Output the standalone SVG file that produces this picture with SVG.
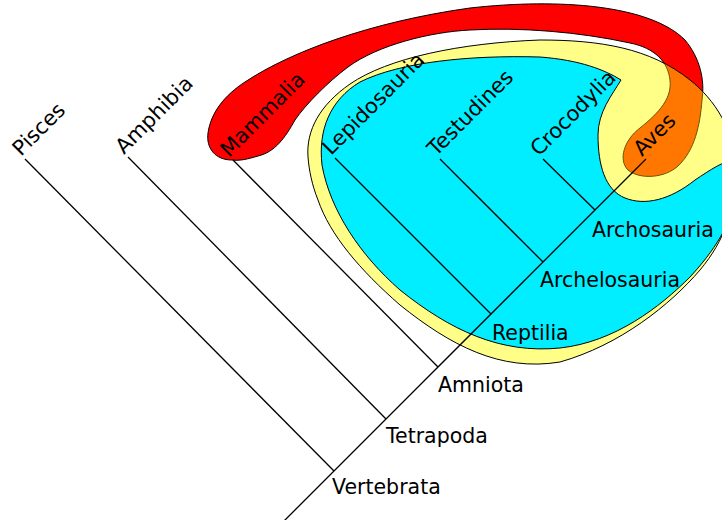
<svg xmlns="http://www.w3.org/2000/svg" width="722" height="520" viewBox="0 0 722 520">
<style>
.lbl{font-family:"DejaVu Sans",sans-serif;font-size:21px;fill:#000}
.hl{font-size:20.5px}
.ln{stroke:#000;stroke-width:1.3;fill:none}
.ol{stroke:#000;stroke-width:1;}
</style>
<defs>
<path id="redP" d="M232,160 C215,160 206,148 208,133 C211,112 225,95 245,82 C290,52 370,22 470,8 C560,-2 650,5 685,40 C700,58 705,80 702,100 C700,125 695,150 678,166 C665,178 640,180 628,170 C618,160 624,140 640,128 C660,112 672,98 670,80 C668,62 655,48 630,43 C580,32 520,27 470,30 C430,32 378,45 348,67 C328,82 306,104 295,120 C285,138 275,152 258,156 C248,159 240,161 232,160 Z"/>
<path id="yelP" d="M308,157 C306,130 320,105 350,84 C388,58 460,43 540,40 C600,40 650,48 690,80 C715,100 735,130 735,170 C735,210 725,240 700,270 C670,305 620,345 560,362 C500,372 450,345 400,305 C360,270 330,235 318,200 C312,185 309,170 308,157 Z"/>
<clipPath id="yelClip"><use href="#yelP"/></clipPath>
</defs>
<g id="mammalia-aves-red">
<use href="#redP" fill="#ff0000" class="ol"/>
</g>
<g id="reptilia-yellow">
<use href="#yelP" fill="#ffff88"/>
</g>
<g id="aves-overlap">
<use href="#redP" fill="#ff7700" stroke="#6e5200" stroke-width="1" clip-path="url(#yelClip)"/>
</g>
<g id="reptilia-outline">
<use href="#yelP" fill="none" class="ol"/>
</g>
<g id="sauropsid-cyan">
<path d="M621,80 C612,95 598,112 598,135 C598,165 605,190 625,198 C645,206 670,200 695,180 C710,170 725,160 735,160 L735,200 C730,225 715,250 690,277 C660,307 615,342 560,348 C500,354 450,330 400,290 C360,255 330,210 322,165 C318,130 330,100 360,82 C400,62 470,55 540,57 C580,60 605,70 621,80 Z" fill="#00eeff" class="ol"/>
</g>
<g id="connectors">
<line class="ln" x1="283" y1="522" x2="646" y2="159"/>
<line class="ln" x1="25" y1="159" x2="334" y2="471"/>
<line class="ln" x1="128" y1="157" x2="386" y2="419"/>
<line class="ln" x1="233" y1="160" x2="438" y2="367"/>
<line class="ln" x1="335" y1="158" x2="491" y2="314"/>
<line class="ln" x1="440" y1="159" x2="543" y2="262"/>
<line class="ln" x1="543" y1="159" x2="595" y2="210"/>
</g>
<g id="node-pisces"><text class="lbl" transform="translate(21,157) rotate(-45)">Pisces</text></g>
<g id="node-amphibia"><text class="lbl" transform="translate(124,155) rotate(-45)">Amphibia</text></g>
<g id="node-mammalia"><text class="lbl" transform="translate(229,158) rotate(-45)">Mammalia</text></g>
<g id="node-lepidosauria"><text class="lbl" transform="translate(331,156) rotate(-45)">Lepidosauria</text></g>
<g id="node-testudines"><text class="lbl" transform="translate(436,157) rotate(-45)">Testudines</text></g>
<g id="node-crocodylia"><text class="lbl" transform="translate(539,157) rotate(-45)">Crocodylia</text></g>
<g id="node-aves"><text class="lbl" transform="translate(642,157) rotate(-45)">Aves</text></g>
<g id="node-vertebrata"><text class="lbl hl" x="332" y="494">Vertebrata</text></g>
<g id="node-tetrapoda"><text class="lbl hl" x="386" y="443">Tetrapoda</text></g>
<g id="node-amniota"><text class="lbl hl" x="438" y="392">Amniota</text></g>
<g id="node-reptilia"><text class="lbl hl" x="492" y="340">Reptilia</text></g>
<g id="node-archelosauria"><text class="lbl hl" x="540" y="287">Archelosauria</text></g>
<g id="node-archosauria"><text class="lbl hl" x="592" y="237">Archosauria</text></g>
</svg>
